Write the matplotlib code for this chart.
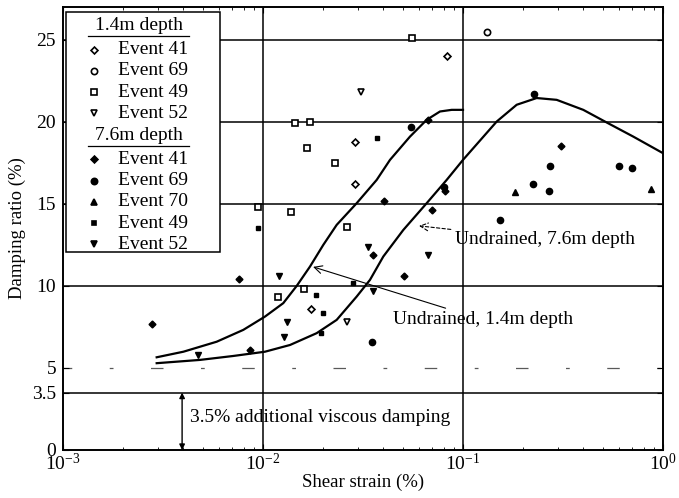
import matplotlib
matplotlib.use("Agg")
import matplotlib.pyplot as plt
from matplotlib import ticker
from matplotlib.patches import Rectangle

plt.rcParams["font.family"] = ["Liberation Serif", "DejaVu Serif"]
plt.rcParams["mathtext.fontset"] = "stix"

# 1.4m depth (open markers)
e41_14_x = [0.0174, 0.0288, 0.0288, 0.0832]
e41_14_y = [8.6, 18.8, 16.2, 24.0]
e69_14_x = [0.132]
e69_14_y = [25.5]
e49_14_x = [0.00944, 0.0119, 0.0160, 0.0138, 0.01445, 0.0172, 0.0166,
            0.0229, 0.0263, 0.0556]
e49_14_y = [14.8, 9.3, 9.8, 14.5, 19.9, 20.0, 18.4, 17.5, 13.6, 25.1]
e52_14_x = [0.0309, 0.0263]
e52_14_y = [21.8, 7.8]

# 7.6m depth (filled markers)
e41_76_x = [0.00279, 0.00759, 0.0086, 0.0355, 0.0507, 0.0403, 0.0668,
            0.0813, 0.070, 0.309]
e41_76_y = [7.7, 10.4, 6.1, 11.9, 10.6, 15.2, 20.1, 15.8, 14.6, 18.5]
e69_76_x = [0.055, 0.226, 0.272, 0.224, 0.269, 0.603, 0.70, 0.153, 0.035,
            0.080]
e69_76_y = [19.7, 21.7, 17.3, 16.2, 15.8, 17.3, 17.2, 14.0, 6.6, 16.0]
e70_76_x = [0.182, 0.871]
e70_76_y = [15.7, 15.9]
e49_76_x = [0.00944, 0.0372, 0.0184, 0.020, 0.0195, 0.0282]
e49_76_y = [13.5, 19.0, 9.45, 8.35, 7.1, 10.2]
e52_76_x = [0.012, 0.0132, 0.0127, 0.0335, 0.0355, 0.0668, 0.00473]
e52_76_y = [10.6, 7.8, 6.9, 12.4, 9.7, 11.9, 5.8]

# undrained curves
c14_x = [0.00294, 0.00400, 0.00587, 0.00797, 0.01023, 0.01263, 0.01474,
         0.01718, 0.02002, 0.02336, 0.0294, 0.03702, 0.04315, 0.05433,
         0.06582, 0.07674, 0.0878, 0.1]
c14_y = [5.65, 5.99, 6.60, 7.32, 8.13, 8.95, 10.0, 11.18, 12.5, 13.72, 15.04,
         16.46, 17.68, 19.1, 20.12, 20.63, 20.73, 20.73]
c76_x = [0.00294, 0.00484, 0.0071, 0.01023, 0.01365, 0.01855, 0.02336,
         0.0294, 0.03428, 0.03995, 0.0503, 0.06582, 0.08288, 0.1, 0.1475,
         0.1856, 0.2336, 0.2941, 0.3995, 0.5231, 0.7102, 1.0]
c76_y = [5.29, 5.49, 5.73, 5.99, 6.40, 7.12, 7.93, 9.35, 10.37, 11.79, 13.41,
         15.04, 16.46, 17.68, 20.02, 21.04, 21.45, 21.34, 20.73, 19.96, 19.1,
         18.09]

y_ticks = [0, 3.5, 5, 10, 15, 20, 25]
h_lines = [3.5, 10, 15, 20, 25]
v_lines = [0.01, 0.1]

open_series = [
    ("Event 41", "D", e41_14_x, e41_14_y, 3.5),
    ("Event 69", "o", e69_14_x, e69_14_y, 4.5),
    ("Event 49", "s", e49_14_x, e49_14_y, 4),
    ("Event 52", "v", e52_14_x, e52_14_y, 5),
]
filled_series = [
    ("Event 41", "D", e41_76_x, e41_76_y, 3.5),
    ("Event 69", "o", e69_76_x, e69_76_y, 4.5),
    ("Event 70", "^", e70_76_x, e70_76_y, 5),
    ("Event 49", "s", e49_76_x, e49_76_y, 3.5),
    ("Event 52", "v", e52_76_x, e52_76_y, 5),
]

fig = plt.figure(figsize=(6.79, 4.98), dpi=100)
ax = fig.add_axes([0.0928, 0.0964, 0.8836, 0.8896])
ax.set_xscale("log")
ax.set_xlim(1e-3, 1)
ax.set_ylim(0, 27)

for y in h_lines:
    ax.axhline(y, color="black", lw=1.1, zorder=1)
for x in v_lines:
    ax.axvline(x, color="black", lw=1.1, zorder=1)
ax.axhline(5, color="0.35", lw=0.9, ls=(3, (10, 30, 3, 30)), zorder=1)

ax.plot(c14_x, c14_y, color="black", lw=1.6, zorder=3)
ax.plot(c76_x, c76_y, color="black", lw=1.6, zorder=3)

for _, mk, xs, ys, ms in open_series:
    ax.plot(xs, ys, ls="none", marker=mk, ms=ms, mfc="white", mec="black",
            mew=1.2, zorder=4)
for _, mk, xs, ys, ms in filled_series:
    ax.plot(xs, ys, ls="none", marker=mk, ms=ms, mfc="black", mec="black",
            zorder=4)

ax.annotate("Undrained, 7.6m depth", xy=(0.0603, 13.66), xytext=(0.0912, 12.8),
            fontsize=14, ha="left", va="center", zorder=5,
            arrowprops=dict(arrowstyle="->", color="black", lw=0.8,
                            ls=(0, (3, 2)), shrinkA=1, shrinkB=0))
ax.annotate("Undrained, 1.4m depth", xy=(0.0178, 11.16), xytext=(0.0447, 7.93),
            fontsize=14, ha="left", va="center", zorder=5,
            arrowprops=dict(arrowstyle="->", color="black", lw=0.8,
                            shrinkA=1, shrinkB=0))
ax.annotate("", xy=(0.00394, 0), xytext=(0.00394, 3.5),
            arrowprops=dict(arrowstyle="<|-|>", color="black", lw=1.0,
                            mutation_scale=8, shrinkA=0, shrinkB=0))
ax.text(0.00432, 1.95, "3.5% additional viscous damping", fontsize=14,
        ha="left", va="center")

ax.set_yticks(y_ticks)
ax.set_yticklabels([f"{v:g}" for v in y_ticks])
ax.xaxis.set_major_locator(ticker.LogLocator(base=10, numticks=10))
ax.xaxis.set_minor_locator(ticker.LogLocator(base=10, subs=range(2, 10),
                                             numticks=10))
ax.xaxis.set_minor_formatter(ticker.NullFormatter())
ax.tick_params(which="both", direction="in", top=True, right=True,
               labelsize=14)
ax.tick_params(which="major", length=4)
ax.tick_params(which="minor", length=2.5)
ax.tick_params(axis="x", pad=2)
ax.tick_params(axis="y", pad=5)
for side in ax.spines.values():
    side.set_linewidth(1.4)

ax.set_xlabel("Shear strain (%)", fontsize=13.5, labelpad=0)
ax.set_ylabel("Damping ratio (%)", fontsize=13.5, labelpad=4)

# hand-made legend with underlined group headers
box = Rectangle((0.005, 0.447), 0.257, 0.542, transform=ax.transAxes,
                facecolor="white", edgecolor="black", lw=1.1, zorder=6)
ax.add_patch(box)
mfc_of = {"open": "white", "filled": "black"}


def legend_group(title, series, kind, top):
    ax.text(0.127, top, title, transform=ax.transAxes, fontsize=14,
            ha="center", va="center", zorder=7)
    ax.plot([0.042, 0.21], [top - 0.025, top - 0.025], transform=ax.transAxes,
            color="black", lw=0.9, zorder=7)
    row = top - 0.055
    for name, mk, _, _, ms in series:
        ax.plot([0.052], [row], transform=ax.transAxes, ls="none", marker=mk,
                ms=ms, mfc=mfc_of[kind], mec="black", mew=1.2, zorder=7)
        ax.text(0.092, row, name, transform=ax.transAxes, fontsize=14,
                ha="left", va="center", zorder=7)
        row -= 0.048


legend_group("1.4m depth", open_series, "open", 0.959)
legend_group("7.6m depth", filled_series, "filled", 0.711)

fig.savefig("out.png", dpi=100)
